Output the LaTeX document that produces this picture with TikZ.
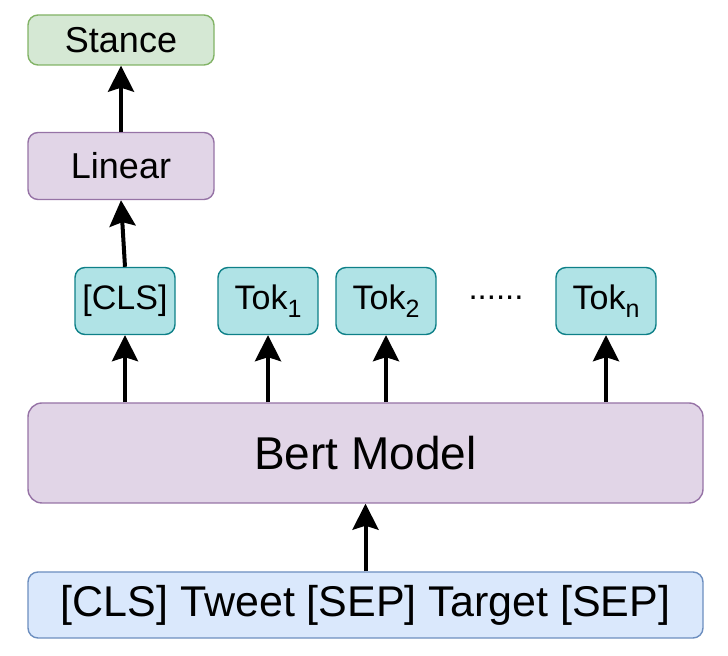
\documentclass[tikz,border=0pt]{standalone}
\usepackage{fontspec}
\setmainfont{Liberation Sans}
\usetikzlibrary{arrows.meta}

\definecolor{stfill}{HTML}{D5E8D4}
\definecolor{stdraw}{HTML}{82B366}
\definecolor{pufill}{HTML}{E1D5E7}
\definecolor{pudraw}{HTML}{9673A6}
\definecolor{tkfill}{HTML}{B0E3E6}
\definecolor{tkdraw}{HTML}{0E8088}
\definecolor{infill}{HTML}{DAE8FC}
\definecolor{indraw}{HTML}{6C8EBF}

\newcommand{\toksub}[1]{\raisebox{-4pt}{\fontsize{12.5}{13}\selectfont #1}}

\begin{document}
\begin{tikzpicture}[
  x=0.5pt, y=-0.5pt,
  box/.style={rectangle, rounded corners=5pt, line width=0.7pt, inner sep=0pt,
              align=center},
  outbox/.style={box, draw=stdraw, fill=stfill, minimum width=93pt,
                 minimum height=25pt, font=\fontsize{18}{20}\selectfont},
  linbox/.style={box, draw=pudraw, fill=pufill, minimum width=93pt,
                 minimum height=33.5pt, font=\fontsize{18}{20}\selectfont},
  tokbox/.style={box, draw=tkdraw, fill=tkfill, minimum width=50pt,
                 minimum height=33.5pt, font=\fontsize{17}{19}\selectfont},
  bertbox/.style={box, rounded corners=7pt, draw=pudraw, fill=pufill,
                  minimum width=337.5pt, minimum height=50pt,
                  font=\fontsize{23}{26}\selectfont},
  inbox/.style={box, draw=indraw, fill=infill, minimum width=337.5pt,
                minimum height=33pt, font=\fontsize{21.5}{24}\selectfont},
  arr/.style={line width=2pt, -{Stealth[length=13pt, width=13pt, inset=2pt]}},
]
\useasboundingbox (0,0) rectangle (728,656);

%% ── Output head ──────────────────────────────────────────────────────────────
\node[outbox] (stance) at (121, 40) {Stance};
\node[linbox] (lin) at (121, 166) {Linear};

%% ── Token outputs ────────────────────────────────────────────────────────────
\node[tokbox] (cls) at (125, 301) {[CLS]};
\node[tokbox] (tok1) at (268, 301) {Tok\toksub{1}};
\node[tokbox] (tok2) at (386, 301) {Tok\toksub{2}};
\node[font=\fontsize{16.5}{18}\selectfont] (dots) at (496, 298) {......};
\node[tokbox] (tokn) at (606, 301) {Tok\toksub{n}};

%% ── Encoder and input ────────────────────────────────────────────────────────
\node[bertbox] (bert) at (365.5, 453) {Bert Model};
\node[inbox] (inp) at (365.5, 605) {[CLS] Tweet [SEP] Target [SEP]};

%% ── Arrows ───────────────────────────────────────────────────────────────────
\draw[arr] (inp.north) -- (bert.south);
\draw[arr] (cls.south |- bert.north) -- (cls.south);
\draw[arr] (tok1.south |- bert.north) -- (tok1.south);
\draw[arr] (tok2.south |- bert.north) -- (tok2.south);
\draw[arr] (tokn.south |- bert.north) -- (tokn.south);
\draw[arr] (cls.north) -- (lin.south);
\draw[arr] (lin.north) -- (stance.south);

\end{tikzpicture}
\end{document}
